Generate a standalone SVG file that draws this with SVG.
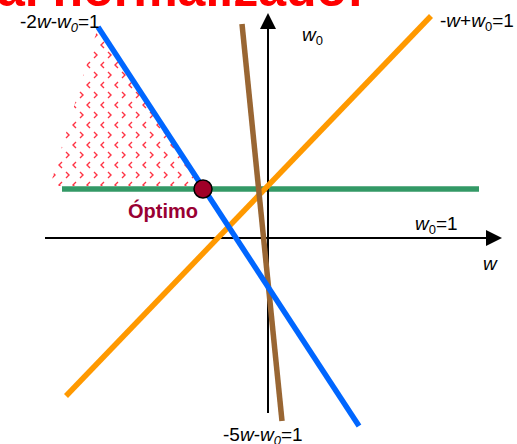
<svg xmlns="http://www.w3.org/2000/svg" width="517" height="444" viewBox="0 0 517 444">
<defs>
<pattern id="hatch" width="14" height="20" patternUnits="userSpaceOnUse">
<polyline points="6,2 3,5 6,8" fill="none" stroke="#ff3344" stroke-width="1.4"/>
<polyline points="10,12 13,15 10,18" fill="none" stroke="#ff3344" stroke-width="1.4"/>
</pattern>
<style>
.lbl{font-family:"Liberation Sans",Arial,sans-serif;font-size:19px;fill:#000}
.it{font-style:italic}
.sub{font-size:13px}
.title{font-family:"Liberation Sans",Arial,sans-serif;font-size:50px;font-weight:bold;fill:#ff0000}
.ln{fill:none;stroke-width:5.5;stroke-linecap:butt}
.axis{stroke:#000;stroke-width:2;fill:none}
</style>
</defs>
<rect width="517" height="444" fill="#fff"/>
<text class="title" x="-3" y="6">al normalizado:</text>
<g id="feasible-region">
<polygon points="98,27 50,186 200,186" fill="url(#hatch)"/>
</g>
<g id="connectors">
<line class="ln" x1="62" y1="189" x2="479" y2="189" stroke="#339966"/>
<line class="axis" x1="268" y1="413" x2="268" y2="28"/>
<polygon points="268,13 260,29 276,29" fill="#000"/>
<line class="axis" x1="45" y1="238" x2="487" y2="238"/>
<polygon points="502,238 486,230 486,246" fill="#000"/>
<line class="ln" x1="431" y1="16" x2="66" y2="396" stroke="#ff9900"/>
<line class="ln" x1="242" y1="24" x2="282" y2="421" stroke="#996633"/>
<line class="ln" x1="98" y1="27" x2="359" y2="426" stroke="#0066ff"/>
</g>
<g id="optimo">
<circle cx="203" cy="189" r="9" fill="#a00028" stroke="#000" stroke-width="1.5"/>
<text x="128" y="218" font-family="'Liberation Sans',Arial,sans-serif" font-size="20" font-weight="bold" fill="#990033">Óptimo</text>
</g>
<g id="labels">
<text class="lbl" x="20" y="28">-2<tspan class="it">w</tspan>-<tspan class="it">w</tspan><tspan class="sub it" dy="4">0</tspan><tspan dy="-4">=1</tspan></text>
<text class="lbl" x="440" y="27">-<tspan class="it">w</tspan>+<tspan class="it">w</tspan><tspan class="sub" dy="4">0</tspan><tspan dy="-4">=1</tspan></text>
<text class="lbl" x="302" y="41"><tspan class="it">w</tspan><tspan class="sub" dy="4">0</tspan></text>
<text class="lbl" x="415" y="230"><tspan class="it">w</tspan><tspan class="sub" dy="4">0</tspan><tspan dy="-4">=1</tspan></text>
<text class="lbl it" x="483" y="270">w</text>
<text class="lbl" x="223" y="441">-5<tspan class="it">w</tspan>-<tspan class="it">w</tspan><tspan class="sub it" dy="4">0</tspan><tspan dy="-4">=1</tspan></text>
</g>
</svg>
